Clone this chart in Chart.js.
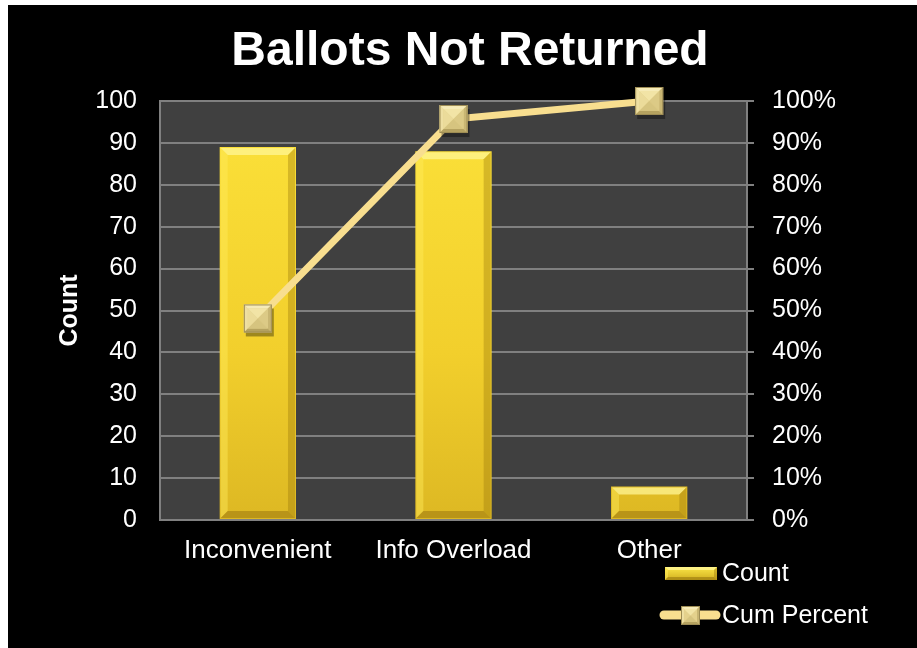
<!DOCTYPE html>
<html>
<head>
<meta charset="utf-8">
<title>Ballots Not Returned</title>
<script src="https://cdn.jsdelivr.net/npm/chart.js@4/dist/chart.umd.min.js"></script>
<style>
  body { margin: 0; background: #fff; }
  #wrap { position: absolute; left: 8px; top: 5px; width: 909px; height: 643px; background: #000; }
</style>
</head>
<body>
<div id="wrap"><canvas id="grafico" width="909" height="643"></canvas></div>
<script>
// datos
var categorias = ['Inconvenient', 'Info Overload', 'Other'];
var conteo = [89, 88, 8];
var porcentajeAcum = [48.1, 95.7, 100];
var ticksConteo = [0, 10, 20, 30, 40, 50, 60, 70, 80, 90, 100];

var fuente = "'Liberation Sans', Arial, sans-serif";

// fondo gris del area de trazado con su borde
var fondoPlot = {
  id: 'fondoPlot',
  beforeDraw: function (chart) {
    var ctx = chart.ctx, a = chart.chartArea;
    ctx.save();
    ctx.fillStyle = '#404040';
    ctx.fillRect(a.left, a.top, a.right - a.left, a.bottom - a.top);
    ctx.strokeStyle = '#808080';
    ctx.lineWidth = 2;
    ctx.strokeRect(a.left, a.top, a.right - a.left, a.bottom - a.top);
    ctx.restore();
  }
};

function poligono(ctx, pts, color) {
  ctx.fillStyle = color;
  ctx.beginPath();
  ctx.moveTo(pts[0], pts[1]);
  for (var i = 2; i < pts.length; i += 2) ctx.lineTo(pts[i], pts[i + 1]);
  ctx.closePath();
  ctx.fill();
}

// biselado de barras y marcadores tipo piramide
function bisel(ctx, l, t, r, b, s, colores) {
  poligono(ctx, [l, t, r, t, r - s, t + s, l + s, t + s], colores[0]);
  poligono(ctx, [l, t, l + s, t + s, l + s, b - s, l, b], colores[1]);
  poligono(ctx, [r, t, r, b, r - s, b - s, r - s, t + s], colores[2]);
  poligono(ctx, [l, b, l + s, b - s, r - s, b - s, r, b], colores[3]);
}

var relieve = {
  id: 'relieve',
  afterDatasetDraw: function (chart, args) {
    var ctx = chart.ctx;
    var meta = args.meta;
    ctx.save();
    if (meta.type === 'bar') {
      meta.data.forEach(function (bar) {
        var l = bar.x - bar.width / 2, r = bar.x + bar.width / 2;
        var t = bar.y, b = bar.base;
        bisel(ctx, l + 1, t + 1, r - 1, b - 1, 7,
          ['rgba(255,246,150,0.75)', 'rgba(255,236,90,0.45)', 'rgba(150,115,10,0.35)', 'rgba(140,105,10,0.45)']);
      });
    } else if (meta.type === 'line') {
      meta.data.forEach(function (p) {
        var h = 14;
        var l = p.x - h, r = p.x + h, t = p.y - h, b = p.y + h;
        ctx.fillStyle = 'rgba(0,0,0,0.35)';
        ctx.fillRect(l + 2, t + 4, 2 * h, 2 * h);
        ctx.fillStyle = '#E4D28C';
        ctx.fillRect(l, t, 2 * h, 2 * h);
        bisel(ctx, l, t, r, b, 4, ['#F6EBB8', '#EEDFA2', '#C9B673', '#B5A260']);
        poligono(ctx, [l + 4, t + 4, r - 4, t + 4, p.x, p.y], '#F2E4A6');
        poligono(ctx, [l + 4, t + 4, p.x, p.y, l + 4, b - 4], '#EBDB9A');
        poligono(ctx, [r - 4, t + 4, r - 4, b - 4, p.x, p.y], '#DCCA86');
        poligono(ctx, [l + 4, b - 4, r - 4, b - 4, p.x, p.y], '#D6C47F');
        ctx.strokeStyle = '#9E8D55';
        ctx.lineWidth = 1;
        ctx.strokeRect(l + 0.5, t + 0.5, 2 * h - 1, 2 * h - 1);
      });
    }
    ctx.restore();
  }
};

// leyenda dibujada a mano abajo a la derecha
var leyenda = {
  id: 'leyenda',
  afterDraw: function (chart) {
    var ctx = chart.ctx;
    ctx.save();
    // Count
    var g = ctx.createLinearGradient(0, 562, 0, 575);
    g.addColorStop(0, '#FCE647');
    g.addColorStop(1, '#D2B020');
    ctx.fillStyle = g;
    ctx.fillRect(657, 562, 52, 13);
    bisel(ctx, 657, 562, 709, 575, 3,
      ['rgba(255,246,150,0.8)', 'rgba(255,236,90,0.5)', 'rgba(150,115,10,0.4)', 'rgba(140,105,10,0.5)']);
    ctx.fillStyle = '#fff';
    ctx.font = '25px ' + fuente;
    ctx.textBaseline = 'middle';
    ctx.fillText(chart.data.datasets[0].label, 714, 569);
    // Cum Percent
    ctx.strokeStyle = '#F8DE8F';
    ctx.lineWidth = 9;
    ctx.lineCap = 'round';
    ctx.beginPath();
    ctx.moveTo(656, 610);
    ctx.lineTo(708, 610);
    ctx.stroke();
    ctx.fillStyle = '#E4D18C';
    ctx.fillRect(673, 601, 19, 19);
    bisel(ctx, 673, 601, 692, 620, 3, ['#F6EBB8', '#EEDFA2', '#C9B673', '#B5A260']);
    poligono(ctx, [676, 604, 689, 604, 682.5, 610.5], '#F2E4A6');
    poligono(ctx, [676, 617, 689, 617, 682.5, 610.5], '#D6C47F');
    ctx.strokeStyle = '#9E8D55';
    ctx.lineWidth = 1;
    ctx.strokeRect(673.5, 601.5, 18, 18);
    ctx.fillStyle = '#fff';
    ctx.fillText(chart.data.datasets[1].label, 714, 611);
    ctx.restore();
  }
};

function degradadoBarra(context) {
  var chart = context.chart, a = chart.chartArea;
  if (!a) return '#F5D42D';
  var g = chart.ctx.createLinearGradient(0, a.top, 0, a.bottom);
  g.addColorStop(0, '#FCE23A');
  g.addColorStop(0.6, '#F2CF2C');
  g.addColorStop(1, '#DDB823');
  return g;
}

var datos = {
  labels: categorias,
  datasets: [{
    type: 'bar',
    label: 'Count',
    data: conteo,
    yAxisID: 'y',
    backgroundColor: degradadoBarra,
    borderWidth: 0,
    categoryPercentage: 1,
    barPercentage: 0.39,
    order: 1
  }, {
    type: 'line',
    label: 'Cum Percent',
    data: porcentajeAcum,
    yAxisID: 'y1',
    borderColor: '#F8DE8F',
    borderWidth: 7,
    clip: false,
    pointRadius: 0,
    pointHoverRadius: 0,
    order: 0
  }]
};

var opciones = {
  responsive: false,
  animation: false,
  layout: { padding: { left: 15, right: 0, top: 0, bottom: 0 } },
  plugins: {
    legend: { display: false },
    tooltip: { enabled: false },
    title: {
      display: true,
      text: 'Ballots Not Returned',
      color: '#fff',
      font: { family: fuente, size: 48, weight: 'bold' },
      padding: { top: 18, bottom: 20.4 }
    }
  },
  scales: {
    x: {
      grid: { display: false, drawTicks: false },
      border: { display: false },
      ticks: { color: '#fff', font: { family: fuente, size: 26 }, padding: 15, maxRotation: 0 },
      afterFit: function (s) { s.height = 128; }
    },
    y: {
      position: 'left',
      min: 0,
      max: 100,
      afterBuildTicks: function (s) { s.ticks = ticksConteo.map(function (v) { return { value: v }; }); },
      grid: { color: '#808080', lineWidth: 2, drawTicks: false },
      border: { display: false },
      ticks: { color: '#fff', font: { family: fuente, size: 25 }, padding: 23 },
      title: {
        display: true,
        text: 'Count',
        color: '#fff',
        font: { family: fuente, size: 25, weight: 'bold' },
        padding: { top: 32, bottom: 0 }
      },
      afterFit: function (s) { s.width = 137; }
    },
    y1: {
      position: 'right',
      min: 0,
      max: 100,
      ticks: {
        stepSize: 10,
        color: '#fff',
        font: { family: fuente, size: 25 },
        padding: 18,
        callback: function (v) { return v + '%'; }
      },
      grid: { drawOnChartArea: false, color: '#808080', lineWidth: 2, tickLength: 7 },
      border: { display: false },
      afterFit: function (s) { s.width = 170; }
    }
  }
};

var canvas = document.getElementById('grafico');
var grafico = new Chart(canvas, {
  data: datos,
  options: opciones,
  plugins: [fondoPlot, relieve, leyenda]
});
</script>
</body>
</html>
